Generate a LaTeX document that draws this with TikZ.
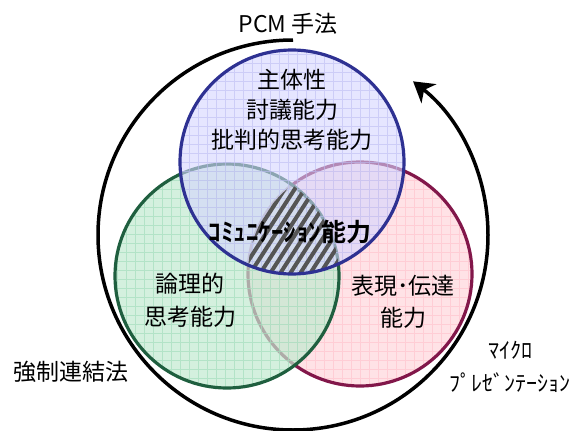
\documentclass[tikz,border=0pt]{standalone}
\usepackage{fontspec}
\setmainfont{Noto Sans CJK JP}[BoldFont={Noto Sans CJK JP Bold}]
\usetikzlibrary{arrows.meta}
\definecolor{pinkfill}{HTML}{FFE2E6}
\definecolor{pinkgrid}{HTML}{FFCDD5}
\definecolor{pinkline}{HTML}{82174A}
\definecolor{greenfill}{HTML}{C2EAD0}
\definecolor{greengrid}{HTML}{A6DEBE}
\definecolor{greenline}{HTML}{1F5F3F}
\definecolor{bluefill}{HTML}{D5D5FF}
\definecolor{bluegrid}{HTML}{BDBDF2}
\definecolor{blueline}{HTML}{2E3192}
\definecolor{hatchgray}{HTML}{555555}
\tikzset{
  ring/.style={line width=3.2pt},
  lbl/.style={inner sep=0pt, align=center, font=\fontsize{23}{30}\selectfont},
  gridlines/.style={line width=0.5pt},
}
\begin{document}
\begin{tikzpicture}[x=1pt,y=1pt]
\useasboundingbox (0,0) rectangle (573,-431);
\coordinate (cb) at (292,-162);
\coordinate (cg) at (227,-276);
\coordinate (cp) at (360,-274);
\coordinate (co) at (293,-235);
% pink circle
\fill[pinkfill] (cp) circle[radius=112];
\begin{scope}
  \clip (cp) circle[radius=112];
  \draw[pinkgrid, gridlines, step=9] (240,-440) grid (480,-150);
\end{scope}
\draw[ring, pinkline] (cp) circle[radius=112];
% green circle
\fill[greenfill, fill opacity=0.7] (cg) circle[radius=112];
\begin{scope}
  \clip (cg) circle[radius=112];
  \draw[greengrid, gridlines, opacity=0.7, step=9] (104,-440) grid (344,-150);
\end{scope}
\draw[ring, greenline] (cg) circle[radius=112];
% blue circle fill
\fill[bluefill, fill opacity=0.6] (cb) circle[radius=112];
\begin{scope}
  \clip (cb) circle[radius=112];
  \draw[bluegrid, gridlines, opacity=0.6, step=9] (176,-290) grid (408,-40);
\end{scope}
% hatch in triple intersection
\begin{scope}
  \clip (cb) circle[radius=112];
  \clip (cg) circle[radius=112];
  \clip (cp) circle[radius=112];
  \foreach \i in {0,...,40} {
    \draw[hatchgray, line width=4pt] ({100+\i*10},-320) -- ++(110,170);
  }
\end{scope}
\draw[ring, blueline] (cb) circle[radius=112];
% outer arrow circle
\draw[line width=3.5pt, -{Stealth[length=20pt,width=24pt,inset=6pt]}]
  (293,-40) arc[start angle=90, end angle=412, radius=195];
% labels
\node[lbl] (t1) at (292,-110) {主体性\\討議能力\\批判的思考能力};
\node[lbl, font=\fontsize{23}{33}\selectfont] (t2) at (190,-300) {論理的\\思考能力};
\node[lbl, font=\fontsize{23}{32}\selectfont] (t3) at (403,-302) {表現･伝達\\能力};
\node[inner sep=0pt, font=\fontsize{25}{25}\selectfont\bfseries] (t4) at (290,-232) {ｺﾐｭﾆｹｰｼｮﾝ能力};
\node[lbl] (t5) at (288,-24) {PCM 手法};
\node[lbl] (t6) at (71,-372) {強制連結法};
\node[lbl, font=\fontsize{22}{22}\selectfont] (t7) at (510,-350) {ﾏｲｸﾛ};
\node[lbl, font=\fontsize{22}{22}\selectfont] (t8) at (510,-383) {ﾌﾟﾚｾﾞﾝﾃｰｼｮﾝ};
\end{tikzpicture}
\end{document}
